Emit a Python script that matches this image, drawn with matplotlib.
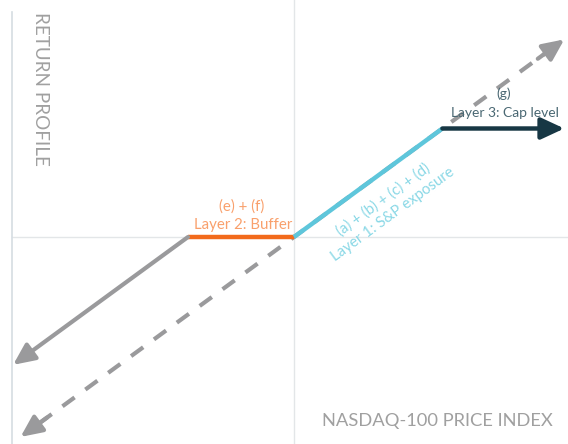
import matplotlib
matplotlib.use("Agg")
import matplotlib.pyplot as plt
import numpy as np

# Payoff profile values (index return %, fund return %)
buffer_level = 10.0
cap_level = 14.0
index_min = -26.5
index_max = 25.5
dash_min = -25.8

fig = plt.figure(figsize=(5.68, 4.44), dpi=100)
ax = fig.add_axes([0, 0, 1, 1])
px_x = 10.6
px_y = 7.75
ax.set_xlim(-294 / px_x, (568 - 294) / px_x)
ax.set_ylim(-(444 - 237) / px_y, 237 / px_y)
ax.axis("off")

def P(x, y):
    return ((x - 294) / px_x, (237 - y) / px_y)

grid_c = "#e3e6e8"
ax.axhline(0, xmin=12 / 568, xmax=1, color=grid_c, lw=1)
ax.axvline(0, ymin=0, ymax=1, color=grid_c, lw=1)
ax.axvline(-(294 - 12) / px_x, ymin=0, ymax=(444 - 12) / 444, color="#d5dde2", lw=1.2)

gray = "#9a9a9c"
head = "-|>,head_length=1.3,head_width=0.6"
ax.plot([dash_min + 1.8, index_max - 1.8], [dash_min + 1.8, index_max - 1.8],
        color=gray, lw=3, dashes=(3.6, 3.2), solid_capstyle="butt")
for a, b in [((dash_min + 2.5, dash_min + 2.5), (dash_min, dash_min)),
             ((index_max - 2.5, index_max - 2.5), (index_max, index_max))]:
    ax.annotate("", xy=b, xytext=a,
                arrowprops=dict(arrowstyle=head, color=gray, lw=3, shrinkA=0, shrinkB=0))

ax.annotate("", xy=(index_min, index_min + buffer_level), xytext=(-buffer_level, 0),
            arrowprops=dict(arrowstyle=head, color=gray, lw=3, shrinkA=0, shrinkB=0))

ax.plot([-buffer_level, 0], [0, 0], color="#f26a1b", lw=3.2, solid_capstyle="butt")
ax.plot([0, cap_level], [0, cap_level], color="#5ec6db", lw=3.2, solid_capstyle="butt")
ax.annotate("", xy=(index_max, cap_level), xytext=(cap_level, cap_level),
            arrowprops=dict(arrowstyle="-|>,head_length=1.4,head_width=0.65",
                            color="#173744", lw=3.2, shrinkA=0, shrinkB=0))

font = "Lato"
ax.text(*P(40, 12), "RETURN PROFILE", rotation=-90, ha="center", va="top",
        color="#a0a0a0", fontsize=13.6, family=font)
ax.text(*P(437, 421), "NASDAQ-100 PRICE INDEX", ha="center", va="center",
        color="#a0a0a0", fontsize=13.2, family=font)

orange_t = "#f9a06c"
fs = 10.8
ax.text(*P(242, 207), "(e) + (f)", ha="center", va="center",
        color=orange_t, fontsize=fs, family=font)
ax.text(*P(243, 225), "Layer 2: Buffer", ha="center", va="center",
        color=orange_t, fontsize=fs, family=font)

cyan_t = "#8ad8e6"
ang = np.degrees(np.arctan(px_y / px_x))
ax.text(*P(383, 200), "(a) + (b) + (c) + (d)", ha="center", va="center",
        rotation=ang, color=cyan_t, fontsize=fs, family=font, rotation_mode="anchor")
ax.text(*P(393, 214), "Layer 1: S&P exposure", ha="center", va="center",
        rotation=ang, color=cyan_t, fontsize=fs, family=font, rotation_mode="anchor")

dark_t = "#4a6873"
ax.text(*P(504, 94), "(g)", ha="center", va="center",
        color=dark_t, fontsize=10, family=font)
ax.text(*P(505, 113), "Layer 3: Cap level", ha="center", va="center",
        color=dark_t, fontsize=10, family=font)

fig.savefig("out.png", dpi=100)
